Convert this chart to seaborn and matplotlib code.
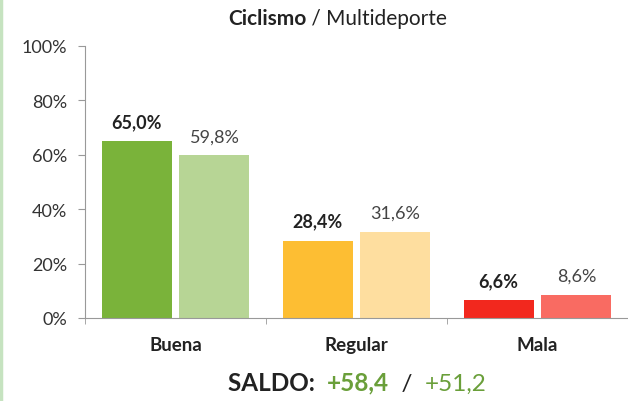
import pandas as pd
import matplotlib
matplotlib.use("Agg")
import matplotlib.pyplot as plt
import seaborn as sns

# data
categorias = ["Buena", "Regular", "Mala"]
ciclismo = [65.0, 28.4, 6.6]
multideporte = [59.8, 31.6, 8.6]
saldo_ciclismo = "+58,4"
saldo_multi = "+51,2"

# colours: dark = Ciclismo, light = Multideporte
colores_oscuros = ["#7AB33A", "#FDBE33", "#F2281E"]
colores_claros = ["#B7D595", "#FEDE9F", "#F96B62"]

sns.set_style("white")
plt.rcParams["font.family"] = ["Lato", "DejaVu Sans"]

df = pd.DataFrame({
    "categoria": categorias * 2,
    "valor": ciclismo + multideporte,
    "serie": ["Ciclismo"] * 3 + ["Multideporte"] * 3,
})

fig = plt.figure(figsize=(6.28, 4.02), dpi=100)
ax = fig.add_axes([0.1354, 0.2065, 0.8646, 0.6766])

sns.barplot(data=df, x="categoria", y="valor", hue="serie", order=categorias,
            width=0.86, gap=0.1, legend=False, ax=ax)

# recolour each bar: first the Ciclismo bars, then Multideporte
bars = ax.patches
for i, p in enumerate(bars[:3]):
    p.set_facecolor(colores_oscuros[i])
    p.set_edgecolor("none")
for i, p in enumerate(bars[3:6]):
    p.set_facecolor(colores_claros[i])
    p.set_edgecolor("none")

# value labels
for p, v in zip(bars[:3], ciclismo):
    ax.annotate(f"{v:.1f}%".replace(".", ","), (p.get_x() + p.get_width() / 2, p.get_height()),
                xytext=(0, 8), textcoords="offset points", ha="center", va="bottom",
                fontsize=13, fontweight="bold", color="#222222")
for p, v in zip(bars[3:6], multideporte):
    ax.annotate(f"{v:.1f}%".replace(".", ","), (p.get_x() + p.get_width() / 2, p.get_height()),
                xytext=(0, 8), textcoords="offset points", ha="center", va="bottom",
                fontsize=13, color="#444444")

ax.set_xlim(-0.5, 2.5)
ax.set_ylim(0, 100)
ax.set_yticks(range(0, 101, 20))
ax.set_yticklabels([f"{t}%" for t in range(0, 101, 20)], fontsize=13, color="#333333")
ax.set_xticks(range(3))
ax.set_xticklabels(categorias, fontsize=13.5, fontweight="bold", color="#222222")
ax.set_xticks([-0.5, 0.5, 1.5, 2.5], minor=True)
ax.tick_params(axis="x", which="major", length=0, pad=13)
ax.tick_params(axis="x", which="minor", length=4, color="#999999", direction="out", bottom=True)
ax.tick_params(axis="y", length=5, color="#999999", direction="out", left=True, pad=8)
ax.set_xlabel("")
ax.set_ylabel("")
ax.grid(False)

sns.despine(ax=ax, top=True, right=True)
ax.spines["left"].set_color("#999999")
ax.spines["bottom"].set_color("#999999")

# title with bold first part
t1 = fig.text(0.363, 0.937, "Ciclismo", fontsize=15, fontweight="bold", color="#222222", va="baseline")
fig.canvas.draw()
ax.annotate(" / Multideporte", xy=(1, 0), xycoords=t1, va="bottom", fontsize=15, color="#222222",
            annotation_clip=False)

# saldo line at the bottom
s1 = fig.text(0.363, 0.028, "SALDO:  ", fontsize=17.5, fontweight="bold", color="#222222", va="baseline")
s2 = ax.annotate(saldo_ciclismo, xy=(1, 0), xycoords=s1, va="bottom", fontsize=17.5,
                 fontweight="bold", color="#6A9F3A", annotation_clip=False)
s3 = ax.annotate("  /  ", xy=(1, 0), xycoords=s2, va="bottom", fontsize=17.5,
                 color="#222222", annotation_clip=False)
ax.annotate(saldo_multi, xy=(1, 0), xycoords=s3, va="bottom", fontsize=17.5,
            color="#6A9F3A", annotation_clip=False)

# thin green frame line on the left edge
fig.add_artist(plt.Line2D([0.002, 0.002], [0, 1], color="#C6E3C0", lw=2.5, transform=fig.transFigure))

fig.savefig("out.png", dpi=100)
